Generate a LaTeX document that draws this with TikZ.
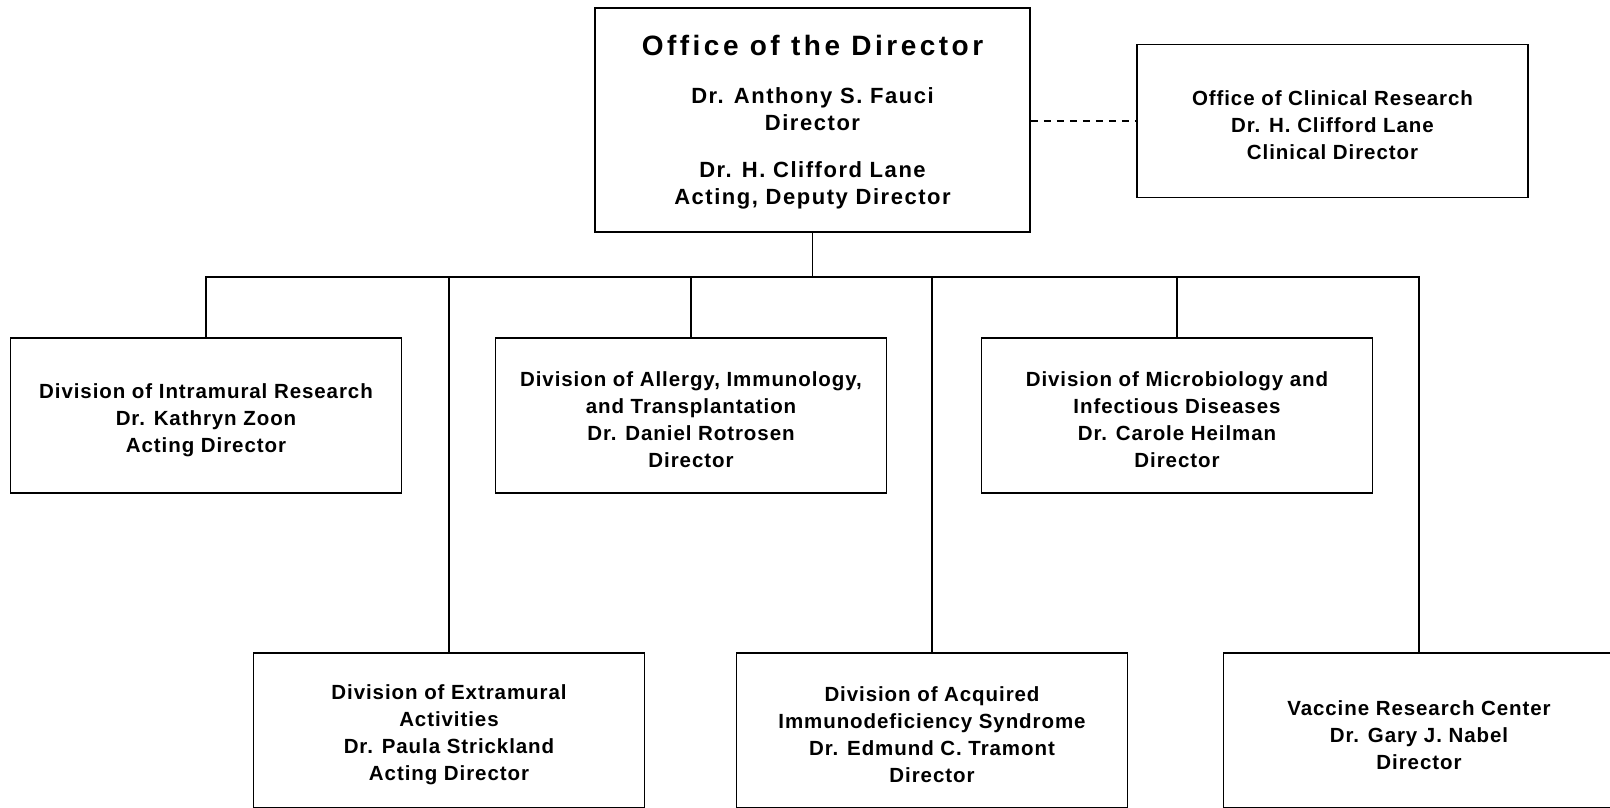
\documentclass[tikz,border=0pt]{standalone}
\usepackage{fontspec}
\newfontfamily\boxfont[LetterSpace=4.5]{Liberation Sans}
\newfontfamily\headfont[LetterSpace=7]{Liberation Sans}
\newfontfamily\titlefont[LetterSpace=12.5]{Liberation Sans}
\newcommand\topgap{\rule{0pt}{24pt}}

\begin{document}
\begin{tikzpicture}[x=1pt,y=-1pt]

\tikzstyle{unit}=[rectangle,draw=black,line width=1.8pt,minimum width=391pt,minimum height=155pt,inner sep=0pt,align=center,font=\boxfont\bfseries\fontsize{20.5}{27}\selectfont]
\tikzstyle{office}=[unit,minimum width=435pt,minimum height=224pt,font=\headfont\bfseries\fontsize{22}{27}\selectfont]
\tikzstyle{link}=[line width=1.5pt]

\path[fill=white] (0,0) rectangle (1610,807);
\clip (0,0) rectangle (1610,807);

%top.
\node[office] (office) at (812.5,120) {\topgap{\titlefont\fontsize{28}{27}\selectfont Office of the Director}\\[21pt]
  Dr. Anthony S. Fauci\\ Director\\[20pt]
  Dr. H. Clifford Lane\\ Acting, Deputy Director};
\node[unit,minimum height=153pt] (ocr) at (1332.5,121) {\topgap Office of Clinical Research\\ Dr. H. Clifford Lane\\ Clinical Director};

%divisions.
\node[unit] (dir) at (206,415.5) {\topgap Division of Intramural Research\\ Dr. Kathryn Zoon\\ Acting Director};
\node[unit] (dait) at (691,415.5) {\topgap Division of Allergy, Immunology,\\ and Transplantation\\ Dr. Daniel Rotrosen\\ Director};
\node[unit] (dmid) at (1177,415.5) {\topgap Division of Microbiology and\\ Infectious Diseases\\ Dr. Carole Heilman\\ Director};

\node[unit,line width=1.5pt] (dea) at (449,730.5) {\topgap Division of Extramural\\ Activities\\ Dr. Paula Strickland\\ Acting Director};
\node[unit,line width=1.5pt] (daids) at (932,730.5) {\topgap Division of Acquired\\ Immunodeficiency Syndrome\\ Dr. Edmund C. Tramont\\ Director};
\node[unit,line width=1.5pt] (vrc) at (1419,730.5) {\topgap Vaccine Research Center\\ Dr. Gary J. Nabel\\ Director};

\coordinate (bus) at (812.5,277);

\draw[link] (office.south) -- (bus);
\draw[link] (dir.north) |- (bus) -| (vrc.north);
\foreach \n in {dea,dait,daids,dmid}
  \draw[link] (\n.north) -- (\n.north |- bus);
\draw[link,dash pattern=on 7pt off 6pt] (office.east |- ocr.west) -- (ocr.west);

\end{tikzpicture}
\end{document}
